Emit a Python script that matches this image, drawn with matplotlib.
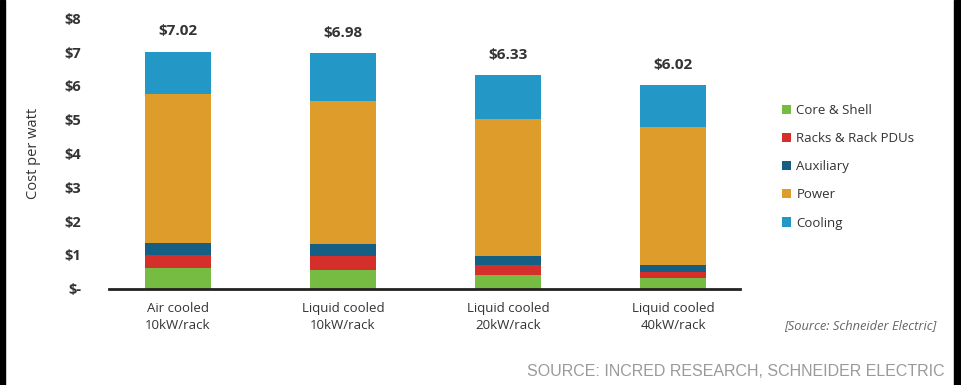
import matplotlib
matplotlib.use('Agg')
import matplotlib.pyplot as plt
from matplotlib.patches import Rectangle
import numpy as np

categories = ['Air cooled\n10kW/rack', 'Liquid cooled\n10kW/rack',
              'Liquid cooled\n20kW/rack', 'Liquid cooled\n40kW/rack']
series = ['Core & Shell', 'Racks & Rack PDUs', 'Auxiliary', 'Power', 'Cooling']
core = [0.62, 0.55, 0.40, 0.30]
racks = [0.36, 0.41, 0.30, 0.19]
aux = [0.38, 0.37, 0.26, 0.21]
power = [4.39, 4.22, 4.07, 4.09]
cooling = [1.27, 1.43, 1.30, 1.23]
totals = [7.02, 6.98, 6.33, 6.02]
yticks = [0, 1, 2, 3, 4, 5, 6, 7, 8]
ytick_labels = ['$-', '$1', '$2', '$3', '$4', '$5', '$6', '$7', '$8']

colors = ['#76bc43', '#d52f2b', '#155f84', '#de9c2b', '#2398c7']
dark = '#333333'

plt.rcParams['font.family'] = ['Open Sans', 'DejaVu Sans']

W, H = 961, 385
fig = plt.figure(figsize=(W / 100, H / 100), dpi=100)
ax = fig.add_axes([109 / W, (H - 288.5) / H, (740 - 109) / W, 270 / H])

x = np.arange(len(categories))
bottom = np.zeros(len(categories))
for name, vals, c in zip(series, [core, racks, aux, power, cooling], colors):
    ax.bar(x, vals, 0.4, bottom=bottom, color=c, label=name, zorder=2)
    bottom += np.array(vals)

for xi, t in zip(x, totals):
    ax.text(xi, t + 0.6, '${:.2f}'.format(t), ha='center', va='center',
            fontsize=11, fontweight='bold', color=dark)

ax.set_xlim(-0.418, 3.406)
ax.set_ylim(0, 8)
ax.set_yticks(yticks)
ax.set_yticklabels(ytick_labels, fontsize=10.5, fontweight='bold', color=dark)
ax.set_xticks(x)
ax.set_xticklabels(categories, fontsize=9.5, color=dark, linespacing=1.35)
ax.tick_params(axis='y', length=0, pad=20)
ax.tick_params(axis='x', length=0, pad=10)
for s in ['top', 'right', 'left']:
    ax.spines[s].set_visible(False)
ax.spines['bottom'].set_linewidth(2)
ax.spines['bottom'].set_color('#222222')
ax.set_ylabel('Cost per watt', fontsize=10.5, color=dark)
ax.yaxis.set_label_coords(-0.108, 0.5)

h, l = ax.get_legend_handles_labels()
fig.legend(h, l, loc='upper left', bbox_to_anchor=(770 / W, 1 - 92 / H),
           frameon=False, fontsize=9.5, handlelength=0.7, handleheight=0.7,
           handletextpad=0.4, labelspacing=1.15, labelcolor=dark)

fig.text(936 / W, 1 - 326 / H, '[Source: Schneider Electric]', ha='right',
         va='center', fontsize=9.3, style='italic', color='#666666')
fig.text(945 / W, 1 - 371 / H, 'SOURCE: INCRED RESEARCH, SCHNEIDER ELECTRIC',
         ha='right', va='center', fontsize=11.5, color='#9a9a9a',
         family='Liberation Sans')

# black strips at the image edges
fig.patches.append(Rectangle((0, 0), 5 / W, 1, transform=fig.transFigure,
                             color='black', zorder=10))
fig.patches.append(Rectangle((954 / W, 0), 7 / W, 1, transform=fig.transFigure,
                             color='black', zorder=10))

fig.savefig('out.png', dpi=100)
